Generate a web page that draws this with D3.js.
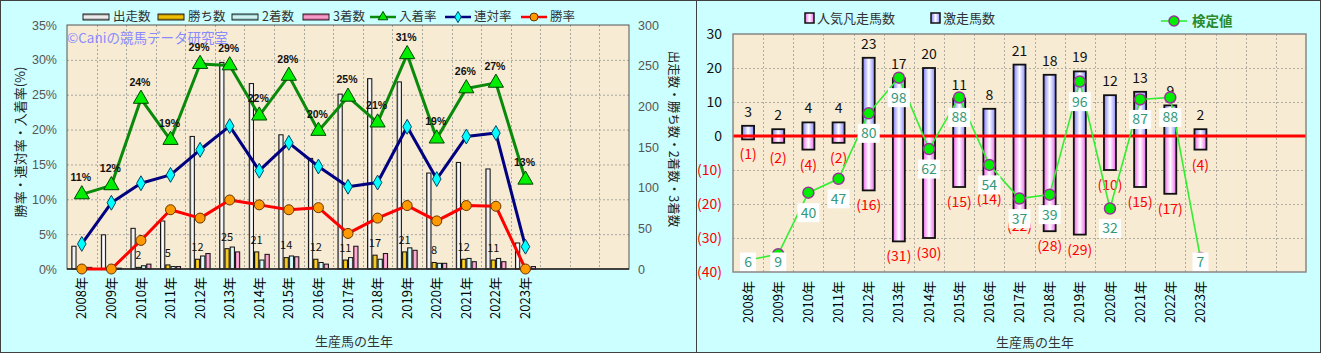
<!DOCTYPE html>
<html><head><meta charset="utf-8">
<script src="https://cdn.jsdelivr.net/npm/d3@7"></script>
<style>
body{margin:0;background:#fff}
svg{display:block}
text{font-family:"Noto Sans CJK JP","Noto Sans",sans-serif}
</style>
</head><body>
<svg id="c" width="1322" height="356"></svg>
<script>
// ---------- data ----------
const years = ["2008年","2009年","2010年","2011年","2012年","2013年","2014年","2015年","2016年","2017年","2018年","2019年","2020年","2021年","2022年","2023年"];
const starts  = [28,42,50,59,163,254,228,165,136,215,234,230,118,131,123,32];
const wins    = [0,0,2,5,12,25,21,14,12,11,17,21,8,12,11,0];
const seconds = [1,1,4,3,16,27,11,16,8,14,12,26,7,13,13,1];
const thirds  = [2,1,6,3,19,21,18,15,6,28,19,23,7,9,9,3];
const showRate  = [10.7,12.0,24.4,18.5,29.4,29.2,22.0,27.7,19.8,24.7,21.0,30.8,18.7,25.9,26.7,12.8];
const showLabels = ["11%","12%","24%","19%","29%","29%","22%","28%","20%","25%","21%","31%","19%","26%","27%","13%"];
const quinRate  = [3.6,9.5,12.3,13.5,17.1,20.5,14.1,18.1,14.7,11.8,12.4,20.4,12.9,19.0,19.5,3.2];
const winRate   = [0,0,4.1,8.5,7.3,9.9,9.2,8.5,8.8,5.1,7.3,9.1,6.9,9.1,9.0,0];
const rateTicks = [0,5,10,15,20,25,30,35];
const countTicks = [0,50,100,150,200,250,300];

const upsets = [3,2,4,4,23,17,20,11,8,21,18,19,12,13,9,2];      // 激走馬数
const flops  = [1,2,4,2,16,31,30,15,14,22,28,29,10,15,17,4];    // 人気凡走馬数
const testValue = [6,9,40,47,80,98,62,88,54,37,39,96,32,87,88,7]; // 検定値
const rightTicks = [-40,-30,-20,-10,0,10,20,30];

const slotCount = 19;

// ---------- setup ----------
const svg = d3.select("#c");
const defs = svg.append("defs");
function hGrad(id, stops){
  const g = defs.append("linearGradient").attr("id",id).attr("x1",0).attr("x2",1).attr("y1",0).attr("y2",0);
  stops.forEach(([o,c])=>g.append("stop").attr("offset",o).attr("stop-color",c));
}
function vGrad(id, stops){
  const g = defs.append("linearGradient").attr("id",id).attr("x1",0).attr("x2",0).attr("y1",0).attr("y2",1);
  stops.forEach(([o,c])=>g.append("stop").attr("offset",o).attr("stop-color",c));
}
hGrad("gStart",[[0,"#9a9a9a"],[0.45,"#ffffff"],[1,"#d8d8d8"]]);
hGrad("gWin",[[0,"#b88a00"],[0.45,"#ffd633"],[1,"#e0a800"]]);
hGrad("gSec",[[0,"#8fcfcf"],[0.45,"#e8ffff"],[1,"#b6e8e8"]]);
hGrad("gThi",[[0,"#d0609a"],[0.45,"#ffb8dc"],[1,"#ee88bb"]]);
vGrad("lStart",[[0,"#888"],[0.5,"#fff"],[1,"#888"]]);
vGrad("lWin",[[0,"#a07800"],[0.5,"#ffcc00"],[1,"#a07800"]]);
vGrad("lSec",[[0,"#66aaaa"],[0.5,"#e8ffff"],[1,"#66aaaa"]]);
vGrad("lThi",[[0,"#c05088"],[0.5,"#ffaad4"],[1,"#c05088"]]);
hGrad("gUp",[[0,"#7c7cff"],[0.5,"#ffffff"],[1,"#8888ff"]]);
hGrad("gFlop",[[0,"#ee66ee"],[0.5,"#ffffff"],[1,"#ee66ee"]]);

// panels
svg.append("rect").attr("x",0.5).attr("y",0.5).attr("width",696).attr("height",352).attr("fill","#ccffff").attr("stroke","#404040");
svg.append("rect").attr("x",696.5).attr("y",0.5).attr("width",624).attr("height",352).attr("fill","#ccffff").attr("stroke","#404040");

// ================= LEFT PANEL =================
const L = {x0:67,x1:629,y0:25,y1:269};
const xL = d3.scaleBand().domain(d3.range(slotCount)).range([L.x0,L.x1]);
const yRate = d3.scaleLinear().domain([0,35]).range([L.y1,L.y0]);
const yCnt = d3.scaleLinear().domain([0,300]).range([L.y1,L.y0]);
const keys = ["starts","wins","seconds","thirds"];
const xSub = d3.scaleBand().domain(keys).range([-10.5,10.5]);
const cx = i => xL(i)+xL.bandwidth()/2;

const gl = svg.append("g");
gl.append("rect").attr("x",L.x0).attr("y",L.y0).attr("width",L.x1-L.x0).attr("height",L.y1-L.y0).attr("fill","#f7ebd3");
// grid
gl.append("g").selectAll("line").data(rateTicks.slice(1,-1)).join("line")
  .attr("x1",L.x0).attr("x2",L.x1).attr("y1",d=>yRate(d)+0.5).attr("y2",d=>yRate(d)+0.5)
  .attr("stroke","#a8a8a0").attr("stroke-dasharray","2,2");
gl.append("g").selectAll("line").data(d3.range(1,slotCount)).join("line")
  .attr("x1",d=>Math.round(xL(d))+0.5).attr("x2",d=>Math.round(xL(d))+0.5).attr("y1",L.y0).attr("y2",L.y1)
  .attr("stroke","#a8a8a0").attr("stroke-dasharray","2,2");

// bars
const series = {starts,wins,seconds,thirds};
const fills = {starts:"url(#gStart)",wins:"url(#gWin)",seconds:"url(#gSec)",thirds:"url(#gThi)"};
keys.forEach(k=>{
  gl.append("g").selectAll("rect").data(series[k]).join("rect")
    .attr("x",(d,i)=>cx(i)+xSub(k)+0.5).attr("width",xSub.bandwidth()-1)
    .attr("y",d=>yCnt(d)).attr("height",d=>L.y1-yCnt(d))
    .attr("fill",fills[k]).attr("stroke","#111").attr("stroke-width",1);
});
// win count labels
gl.append("g").selectAll("text").data(wins.map((v,i)=>[v,i]).filter(d=>d[0]>0)).join("text")
  .attr("x",d=>cx(d[1])+xSub("wins")+xSub.bandwidth()/2).attr("y",d=>yCnt(d[0])-12)
  .attr("dy","0.35em").attr("text-anchor","middle").attr("font-size",11).attr("fill","#111").text(d=>d[0]);

// frame
gl.append("rect").attr("x",L.x0).attr("y",L.y0).attr("width",L.x1-L.x0).attr("height",L.y1-L.y0).attr("fill","none").attr("stroke","#555");
gl.append("line").attr("x1",L.x0).attr("x2",L.x1).attr("y1",L.y1).attr("y2",L.y1).attr("stroke","#222").attr("stroke-width",1.5);

// watermark
gl.append("text").attr("x",L.x0).attr("y",38).attr("dy","0.35em").attr("font-size",13.5).attr("fill","#8a8aff").text("©Caniの競馬データ研究室");

// lines
function drawLine(vals,color,w){
  gl.append("path").datum(vals).attr("fill","none").attr("stroke",color).attr("stroke-width",w)
    .attr("stroke-linejoin","round")
    .attr("d",d3.line().x((d,i)=>cx(i)).y(d=>yRate(d)));
}
drawLine(showRate,"#0a8a0a",3);
drawLine(quinRate,"#000080",3);
drawLine(winRate,"#ff0000",3);
const tri = d3.symbol(d3.symbolTriangle,100)();
const dia = d3.symbol(d3.symbolDiamond,64)();
gl.append("g").selectAll("path").data(showRate).join("path").attr("d",tri)
  .attr("transform",(d,i)=>`translate(${cx(i)},${yRate(d)})`).attr("fill","#00ee00").attr("stroke","#004400");
gl.append("g").selectAll("path").data(quinRate).join("path").attr("d",dia)
  .attr("transform",(d,i)=>`translate(${cx(i)},${yRate(d)})`).attr("fill","#00ffff").attr("stroke","#004466");
gl.append("g").selectAll("circle").data(winRate).join("circle")
  .attr("cx",(d,i)=>cx(i)).attr("cy",d=>yRate(d)).attr("r",5).attr("fill","#ff9900").attr("stroke","#663300");
// % labels
gl.append("g").selectAll("text").data(showRate).join("text")
  .attr("x",(d,i)=>cx(i)-1).attr("y",d=>yRate(d)-17).attr("dy","0.35em").attr("text-anchor","middle")
  .attr("font-size",10.5).attr("font-weight","bold").attr("fill","#111")
  .style("font-family","'Liberation Sans',Arial,sans-serif").text((d,i)=>showLabels[i]);

// axes
const axL = gl.append("g").attr("transform",`translate(${L.x0},0)`)
  .call(d3.axisLeft(yRate).tickValues(rateTicks).tickFormat(d=>d+"%").tickSize(0).tickPadding(10));
axL.select(".domain").remove();
axL.selectAll("text").attr("font-size",12.5).attr("fill","#555").style("font-family","'Liberation Sans',Arial,sans-serif");
const axR = gl.append("g").attr("transform",`translate(${L.x1},0)`)
  .call(d3.axisRight(yCnt).tickValues(countTicks).tickSize(0).tickPadding(9));
axR.select(".domain").remove();
axR.selectAll("text").attr("font-size",12.5).attr("fill","#555").style("font-family","'Liberation Sans',Arial,sans-serif");
const axB = gl.append("g").attr("transform",`translate(0,${L.y1})`)
  .call(d3.axisBottom(xL).tickFormat(i=>years[i]||"").tickSize(0));
axB.select(".domain").remove();
axB.selectAll("text").attr("y",0).attr("x",-8).attr("dy","0.35em").attr("transform","rotate(-90)")
  .style("text-anchor","end").attr("font-size",13).attr("fill","#000");

// titles
gl.append("text").attr("transform","translate(20,142) rotate(-90)").attr("text-anchor","middle").attr("dy","0.35em")
  .attr("font-size",13).attr("fill","#222").text("勝率・連対率・入着率(%)");
gl.append("text").attr("transform","translate(673,139) rotate(90)").attr("text-anchor","middle").attr("dy","0.35em")
  .attr("font-size",12.5).attr("fill","#222").text("出走数・勝ち数・2着数・3着数");
gl.append("text").attr("x",354).attr("y",341).attr("text-anchor","middle").attr("dy","0.35em")
  .attr("font-size",13).attr("fill","#333").text("生産馬の生年");

// legend
const legBars = [["出走数","lStart",83],["勝ち数","lWin",158],["2着数","lSec",232],["3着数","lThi",303]];
legBars.forEach(([t,g,x])=>{
  gl.append("rect").attr("x",x).attr("y",14).attr("width",26).attr("height",6).attr("fill",`url(#${g})`).attr("stroke","#222");
  gl.append("text").attr("x",x+30).attr("y",17).attr("dy","0.35em").attr("font-size",12.5).attr("fill","#333").text(t);
});
const legLines = [["入着率","#0a8a0a",370,"tri"],["連対率","#000080",445,"dia"],["勝率","#ff0000",521,"cir"]];
legLines.forEach(([t,c,x,m])=>{
  gl.append("line").attr("x1",x).attr("x2",x+26).attr("y1",17).attr("y2",17).attr("stroke",c).attr("stroke-width",2.5);
  if(m==="tri") gl.append("path").attr("d",d3.symbol(d3.symbolTriangle,40)()).attr("transform",`translate(${x+13},17)`).attr("fill","#00ee00").attr("stroke","#004400");
  if(m==="dia") gl.append("path").attr("d",d3.symbol(d3.symbolDiamond,36)()).attr("transform",`translate(${x+13},17)`).attr("fill","#00ffff").attr("stroke","#004466");
  if(m==="cir") gl.append("circle").attr("cx",x+13).attr("cy",17).attr("r",4).attr("fill","#ff9900").attr("stroke","#663300");
  gl.append("text").attr("x",x+29).attr("y",17).attr("dy","0.35em").attr("font-size",12.5).attr("fill","#333").text(t);
});

// ================= RIGHT PANEL =================
const R = {x0:733,x1:1306,y0:34,y1:272};
const xR = d3.scaleBand().domain(d3.range(slotCount)).range([R.x0,R.x1]);
const yR = d3.scaleLinear().domain([-40,30]).range([R.y1,R.y0]);
const yT = d3.scaleLinear().domain([0,120]).range([R.y1,R.y0]);
const rx = i => xR(i)+xR.bandwidth()/2;
const bw = 12;

const gr = svg.append("g");
gr.append("rect").attr("x",R.x0).attr("y",R.y0).attr("width",R.x1-R.x0).attr("height",R.y1-R.y0).attr("fill","#f7ebd3");
gr.append("g").selectAll("line").data(rightTicks.filter(d=>d!==-40 && d!==30)).join("line")
  .attr("x1",R.x0).attr("x2",R.x1).attr("y1",d=>Math.round(yR(d))+0.5).attr("y2",d=>Math.round(yR(d))+0.5)
  .attr("stroke","#b0aca0").attr("stroke-dasharray","2,2");
gr.append("g").selectAll("line").data(d3.range(1,slotCount)).join("line")
  .attr("x1",d=>Math.round(xR(d))+0.5).attr("x2",d=>Math.round(xR(d))+0.5).attr("y1",R.y0).attr("y2",R.y1)
  .attr("stroke","#b0aca0").attr("stroke-dasharray","2,2");

// bars
gr.append("g").selectAll("rect").data(upsets).join("rect")
  .attr("x",(d,i)=>rx(i)-bw/2).attr("width",bw).attr("y",d=>yR(d)).attr("height",d=>yR(0)-yR(d))
  .attr("fill","url(#gUp)").attr("stroke","#111").attr("stroke-width",1.8);
gr.append("g").selectAll("rect").data(flops).join("rect")
  .attr("x",(d,i)=>rx(i)-bw/2).attr("width",bw).attr("y",yR(0)).attr("height",d=>yR(-d)-yR(0))
  .attr("fill","url(#gFlop)").attr("stroke","#111").attr("stroke-width",1.8);
// zero line
gr.append("line").attr("x1",R.x0).attr("x2",R.x1).attr("y1",yR(0)).attr("y2",yR(0)).attr("stroke","#ff0000").attr("stroke-width",3);
// bar labels
gr.append("g").selectAll("text").data(upsets).join("text")
  .attr("x",(d,i)=>rx(i)).attr("y",d=>yR(d)-14).attr("dy","0.35em").attr("text-anchor","middle")
  .attr("font-size",14).attr("fill","#111").text(d=>d);
gr.append("g").selectAll("text").data(flops).join("text")
  .attr("x",(d,i)=>rx(i)).attr("y",d=>yR(-d)+15).attr("dy","0.35em").attr("text-anchor","middle")
  .attr("font-size",14).attr("fill","#ff0000").text(d=>`(${d})`);

// test value line
gr.append("path").datum(testValue).attr("fill","none").attr("stroke","#33ee33").attr("stroke-width",1.6)
  .attr("d",d3.line().x((d,i)=>rx(i)).y(d=>yT(d)));
gr.append("g").selectAll("circle").data(testValue).join("circle")
  .attr("cx",(d,i)=>rx(i)).attr("cy",d=>yT(d)).attr("r",5.5).attr("fill","#00ee00").attr("stroke","#993399").attr("stroke-width",1.5);
const tl = gr.append("g").selectAll("g").data(testValue).join("g")
  .attr("transform",(d,i)=>`translate(${rx(i)},${Math.min(yT(d)+20,R.y1-10)})`);
tl.append("rect").attr("x",d=>String(d).length>1?-11:-8).attr("width",d=>String(d).length>1?22:16)
  .attr("y",-9.5).attr("height",19).attr("fill","#fff");
tl.append("text").attr("text-anchor","middle").attr("dy","0.35em").attr("font-size",14).attr("fill","#33997a").text(d=>d);

// frame
gr.append("rect").attr("x",R.x0).attr("y",R.y0).attr("width",R.x1-R.x0).attr("height",R.y1-R.y0).attr("fill","none").attr("stroke","#888").attr("stroke-width",1.5);

// axes
const arL = gr.append("g").attr("transform",`translate(${R.x0},0)`)
  .call(d3.axisLeft(yR).tickValues(rightTicks).tickFormat(d=>d<0?`(${-d})`:d).tickSize(0).tickPadding(11));
arL.select(".domain").remove();
arL.selectAll("text").attr("font-size",14).attr("fill",d=>d<0?"#ff0000":"#111");
const arB = gr.append("g").attr("transform",`translate(0,${R.y1})`)
  .call(d3.axisBottom(xR).tickFormat(i=>years[i]||"").tickSize(0));
arB.select(".domain").remove();
arB.selectAll("text").attr("y",0).attr("x",-9).attr("dy","0.35em").attr("transform","rotate(-90)")
  .style("text-anchor","end").attr("font-size",13).attr("fill","#000");
gr.append("text").attr("x",1035).attr("y",342).attr("text-anchor","middle").attr("dy","0.35em")
  .attr("font-size",13).attr("fill","#333").text("生産馬の生年");

// legend
gr.append("rect").attr("x",805).attr("y",13).attr("width",9).attr("height",10).attr("fill","url(#gFlop)").attr("stroke","#111").attr("stroke-width",1.5);
gr.append("text").attr("x",817).attr("y",18).attr("dy","0.35em").attr("font-size",13).attr("fill","#333").text("人気凡走馬数");
gr.append("rect").attr("x",931).attr("y",13).attr("width",9).attr("height",10).attr("fill","url(#gUp)").attr("stroke","#111").attr("stroke-width",1.5);
gr.append("text").attr("x",943).attr("y",18).attr("dy","0.35em").attr("font-size",13).attr("fill","#333").text("激走馬数");
gr.append("line").attr("x1",1161).attr("x2",1187).attr("y1",21).attr("y2",21).attr("stroke","#33ee33").attr("stroke-width",1.6);
gr.append("circle").attr("cx",1174).attr("cy",21).attr("r",5).attr("fill","#00ee00").attr("stroke","#993399").attr("stroke-width",1.5);
gr.append("text").attr("x",1192).attr("y",21).attr("dy","0.35em").attr("font-size",13.5).attr("font-weight","bold").attr("fill","#2a8a2a").text("検定値");
</script>
</body></html>
